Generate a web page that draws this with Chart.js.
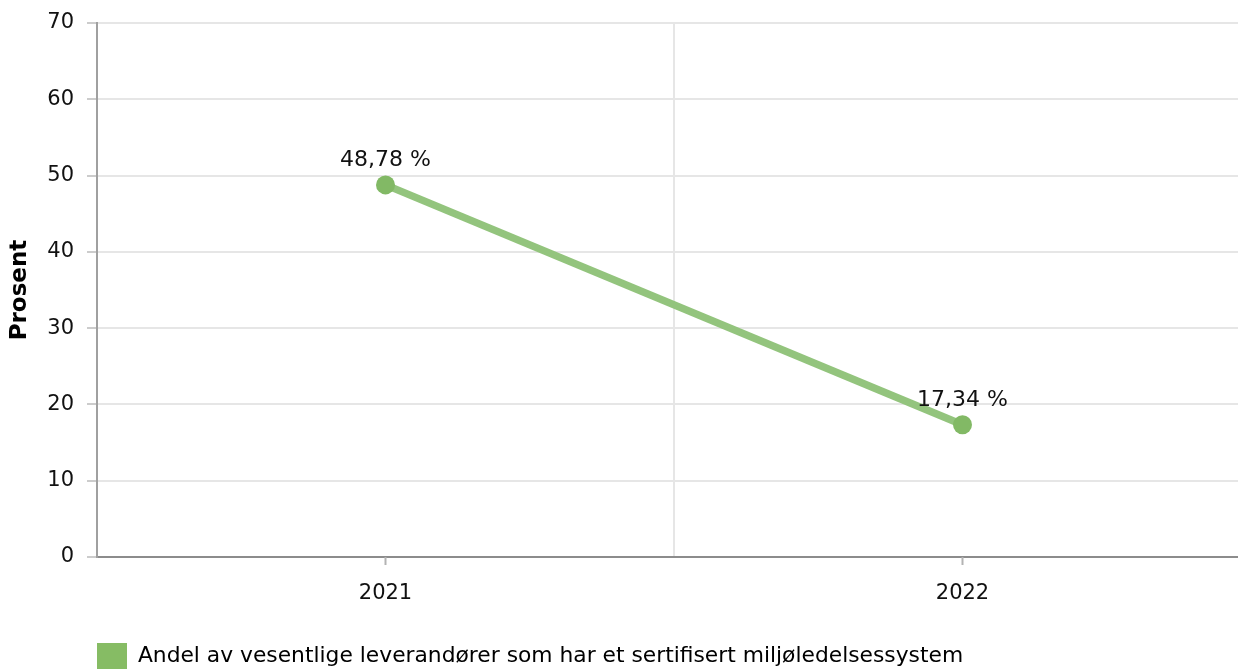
<!DOCTYPE html>
<html>
<head>
<meta charset="utf-8">
<script src="https://cdn.jsdelivr.net/npm/chart.js@4"></script>
<style>
  html, body { margin: 0; padding: 0; background: #fff; overflow: hidden; }
  #clip { width: 1238px; height: 669px; overflow: hidden; position: relative; }
  #line-chart { position: absolute; left: 0; top: 0; }
</style>
</head>
<body>
<div id="clip"><canvas id="line-chart" width="1251" height="679" style="width:1251px;height:679px"></canvas></div>
<script>
// Chart data
const years = ["2021", "2022"];
const shares = [48.78, 17.34];
const seriesName = "Andel av vesentlige leverandører som har et sertifisert miljøledelsessystem";
const yTicks = [0, 10, 20, 30, 40, 50, 60, 70];

const fontFamily = "'DejaVu Sans', Verdana, sans-serif";

// labels above the points, norwegian comma
const pointLabels = {
    id: 'pointLabels',
    afterDatasetsDraw(chart) {
        const ctx = chart.ctx;
        const meta = chart.getDatasetMeta(0);
        ctx.save();
        ctx.font = "22px " + fontFamily;
        ctx.fillStyle = "#111";
        ctx.textAlign = "center";
        ctx.textBaseline = "alphabetic";
        meta.data.forEach((pt, i) => {
            const txt = shares[i].toFixed(2).replace('.', ',') + " %";
            ctx.fillText(txt, pt.x, pt.y - 19);
        });
        ctx.restore();
    }
};

// tick marks under the category centres (grid itself sits between categories)
const centreTicks = {
    id: 'centreTicks',
    afterDraw(chart) {
        const x = chart.scales.x;
        const ctx = chart.ctx;
        ctx.save();
        ctx.strokeStyle = "#b3b3b3";
        ctx.lineWidth = 2;
        years.forEach((y, i) => {
            const px = x.getPixelForValue(i);
            ctx.beginPath();
            ctx.moveTo(px, x.top);
            ctx.lineTo(px, x.top + 8);
            ctx.stroke();
        });
        ctx.restore();
    }
};

// legend sits under the plot, lined up with the y axis
const legendShift = {
    id: 'legendShift',
    afterLayout(chart) {
        chart.legend.left = chart.chartArea.left - chart.legend.options.labels.padding;
    }
};

new Chart(document.getElementById("line-chart"), {
    type: 'line',
    data: {
        labels: years,
        datasets: [
            {
                label: seriesName,
                data: shares,
                borderColor: "#93c47d",
                backgroundColor: "#86bc64",
                borderWidth: 7.5,
                pointRadius: 9.5,
                pointHoverRadius: 9.5,
                pointBackgroundColor: "#82b965",
                pointBorderWidth: 0,
                tension: 0
            }
        ]
    },
    options: {
        responsive: false,
        animation: false,
        devicePixelRatio: 1,
        layout: {autoPadding: false, padding: {top: 23, right: 0, left: 0, bottom: 0}},
        plugins: {
            tooltip: {enabled: false},
            legend: {
                position: 'bottom',
                align: 'start',
                labels: {
                    boxWidth: 30,
                    boxHeight: 26,
                    padding: 36,
                    color: "#000",
                    font: {family: fontFamily, size: 21.8},
                    generateLabels: (chart) => [{
                        text: seriesName,
                        fillStyle: "#86bc64",
                        strokeStyle: "#86bc64",
                        lineWidth: 0,
                        datasetIndex: 0
                    }]
                }
            }
        },
        scales: {
            x: {
                offset: true,
                grid: {
                    offset: true,
                    color: "#e6e6e6",
                    lineWidth: 2,
                    tickLength: 8,
                    tickColor: "transparent"
                },
                border: {color: "#8c8c8c", width: 2},
                ticks: {
                    color: "#111",
                    padding: 16,
                    font: {family: fontFamily, size: 21}
                },
                afterFit: (scale) => { scale.height = 50; }
            },
            y: {
                min: 0,
                max: 70,
                afterBuildTicks: (scale) => { scale.ticks = yTicks.map(v => ({value: v})); },
                grid: {
                    color: "#e6e6e6",
                    lineWidth: 2,
                    tickLength: 10,
                    tickColor: "#cccccc"
                },
                border: {color: "#a0a0a0", width: 2},
                ticks: {
                    color: "#111",
                    padding: 13,
                    font: {family: fontFamily, size: 21}
                },
                title: {
                    display: true,
                    text: "Prosent",
                    color: "#000",
                    padding: {top: 6, bottom: 0},
                    font: {family: fontFamily, size: 23, weight: 'bold'}
                },
                afterFit: (scale) => {
                    scale.width = 97;
                    scale.paddingTop = 0;
                    scale.paddingBottom = 0;
                }
            }
        }
    },
    plugins: [pointLabels, centreTicks, legendShift]
});
</script>
</body>
</html>
